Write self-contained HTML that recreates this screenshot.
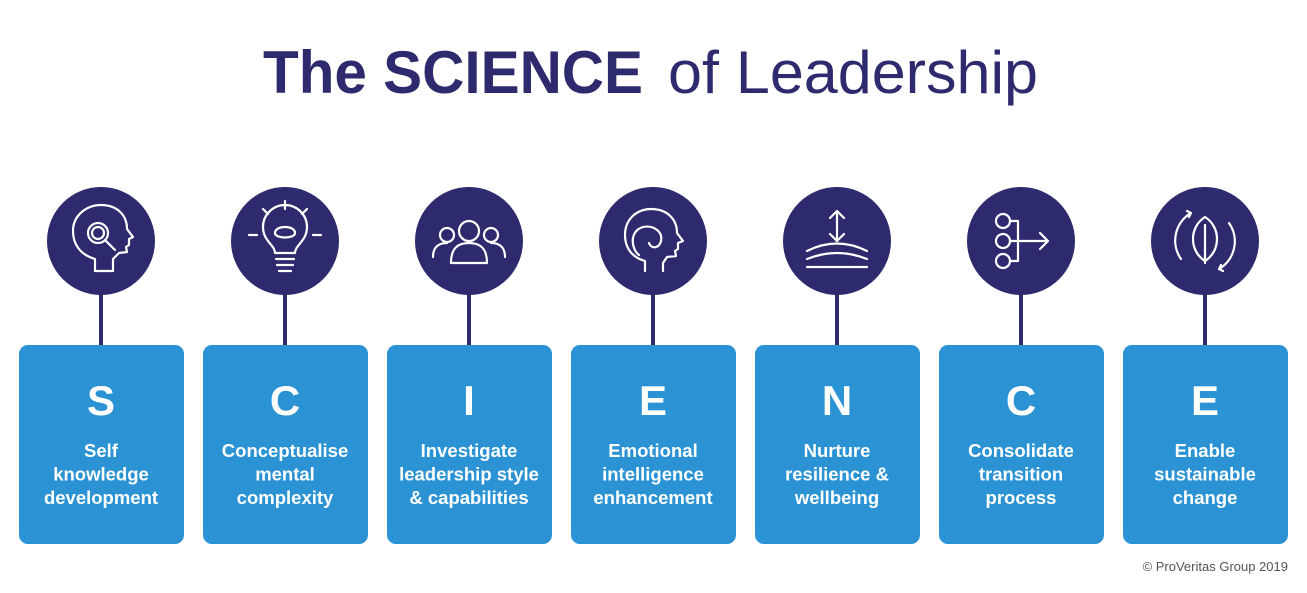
<!DOCTYPE html>
<html><head><meta charset="utf-8"><style>
body{margin:0;background:#fff;width:1307px;height:588px;overflow:hidden;font-family:"Liberation Sans",sans-serif}
.ic{fill:none;stroke:#fff;stroke-width:2.2;stroke-linejoin:round;stroke-linecap:round}
</style></head><body>
<svg width="1307" height="588" viewBox="0 0 1307 588" xmlns="http://www.w3.org/2000/svg" font-family="Liberation Sans, sans-serif">
<text y="93" font-size="60" fill="#2e2a6e"><tspan x="263" font-weight="bold" textLength="380" lengthAdjust="spacingAndGlyphs">The SCIENCE</tspan><tspan x="668" textLength="370" lengthAdjust="spacingAndGlyphs">of Leadership</tspan></text>

<g transform="translate(101,0)">
<line x1="0" y1="290" x2="0" y2="346" stroke="#2e2a6e" stroke-width="4"/>
<circle cx="0" cy="241" r="54" fill="#2e2a6e"/>
<g class="ic" transform="translate(0,241)"><path d="M-6 30 v-12 c-14-4-22-14-22-28 c0-16 14-26 28-26 c16 0 26 10 26 24 l6 8 -4 2 0 6 -3 2 1 5 -8 1 -6 6 v12 z"/><circle cx="-3" cy="-8" r="10"/><circle cx="-3" cy="-8" r="6"/><path d="M5 0 l9 9"/></g>
<rect x="-82" y="345" width="165" height="199" rx="9" fill="#2b93d4"/>
<g fill="#fff" font-weight="bold" text-anchor="middle"><text x="0" y="415" font-size="42">S</text><text x="0" y="457" font-size="18.5">Self</text><text x="0" y="480.5" font-size="18.5">knowledge</text><text x="0" y="504" font-size="18.5">development</text></g>
</g>

<g transform="translate(285,0)">
<line x1="0" y1="290" x2="0" y2="346" stroke="#2e2a6e" stroke-width="4"/>
<circle cx="0" cy="241" r="54" fill="#2e2a6e"/>
<g class="ic" transform="translate(0,241)"><path d="M-10 12 c0-8-12-12-12-26 a22 22 0 0 1 44 0 c0 14-12 18-12 26 z M-9 18 h18 M-8 24 h16 M-6 30 h12 M-36 -6 h8 M28 -6 h8 M0 -40 v8 M-22 -32 l5 5 M22 -32 l-5 5"/><path d="M-10 -8 c0-8 20-8 20 0 c0 6-20 6-20 0z"/></g>
<rect x="-82" y="345" width="165" height="199" rx="9" fill="#2b93d4"/>
<g fill="#fff" font-weight="bold" text-anchor="middle"><text x="0" y="415" font-size="42">C</text><text x="0" y="457" font-size="18.5">Conceptualise</text><text x="0" y="480.5" font-size="18.5">mental</text><text x="0" y="504" font-size="18.5">complexity</text></g>
</g>

<g transform="translate(469,0)">
<line x1="0" y1="290" x2="0" y2="346" stroke="#2e2a6e" stroke-width="4"/>
<circle cx="0" cy="241" r="54" fill="#2e2a6e"/>
<g class="ic" transform="translate(0,241)"><circle cx="-22" cy="-6" r="7"/><circle cx="22" cy="-6" r="7"/><circle cx="0" cy="-10" r="10"/><path d="M-36 16 c0-10 6-14 14-14 M36 16 c0-10-6-14-14-14 M-18 22 c0-16 8-20 18-20 s18 4 18 20 z"/></g>
<rect x="-82" y="345" width="165" height="199" rx="9" fill="#2b93d4"/>
<g fill="#fff" font-weight="bold" text-anchor="middle"><text x="0" y="415" font-size="42">I</text><text x="0" y="457" font-size="18.5">Investigate</text><text x="0" y="480.5" font-size="18.5">leadership style</text><text x="0" y="504" font-size="18.5">&amp; capabilities</text></g>
</g>

<g transform="translate(653,0)">
<line x1="0" y1="290" x2="0" y2="346" stroke="#2e2a6e" stroke-width="4"/>
<circle cx="0" cy="241" r="54" fill="#2e2a6e"/>
<g class="ic" transform="translate(0,241)"><path d="M-8 30 v-10 c-14-4-20-14-20-26 c0-16 12-26 26-26 c16 0 26 10 26 24 l6 8 -5 2 v6 l-3 2 1 5 -9 1 -4 6 v8"/><path d="M-14 14 c-8-6-10-24 4-28 c10-2 20 4 18 14 c-2 8-10 8-12 2"/></g>
<rect x="-82" y="345" width="165" height="199" rx="9" fill="#2b93d4"/>
<g fill="#fff" font-weight="bold" text-anchor="middle"><text x="0" y="415" font-size="42">E</text><text x="0" y="457" font-size="18.5">Emotional</text><text x="0" y="480.5" font-size="18.5">intelligence</text><text x="0" y="504" font-size="18.5">enhancement</text></g>
</g>

<g transform="translate(837,0)">
<line x1="0" y1="290" x2="0" y2="346" stroke="#2e2a6e" stroke-width="4"/>
<circle cx="0" cy="241" r="54" fill="#2e2a6e"/>
<g class="ic" transform="translate(0,241)"><path d="M0 -30 v30 M-7 -23 l7-7 7 7 M-7 -7 l7 7 7-7 M-30 10 c20-10 40-10 60 0 M-30 18 c20-8 40-8 60 0 M-30 26 h60"/></g>
<rect x="-82" y="345" width="165" height="199" rx="9" fill="#2b93d4"/>
<g fill="#fff" font-weight="bold" text-anchor="middle"><text x="0" y="415" font-size="42">N</text><text x="0" y="457" font-size="18.5">Nurture</text><text x="0" y="480.5" font-size="18.5">resilience &amp;</text><text x="0" y="504" font-size="18.5">wellbeing</text></g>
</g>

<g transform="translate(1021,0)">
<line x1="0" y1="290" x2="0" y2="346" stroke="#2e2a6e" stroke-width="4"/>
<circle cx="0" cy="241" r="54" fill="#2e2a6e"/>
<g class="ic" transform="translate(0,241)"><circle cx="-18" cy="-20" r="7"/><circle cx="-18" cy="0" r="7"/><circle cx="-18" cy="20" r="7"/><path d="M-11 -20 h8 v40 h-8 M-11 0 h38 M19 -8 l8 8 -8 8"/></g>
<rect x="-82" y="345" width="165" height="199" rx="9" fill="#2b93d4"/>
<g fill="#fff" font-weight="bold" text-anchor="middle"><text x="0" y="415" font-size="42">C</text><text x="0" y="457" font-size="18.5">Consolidate</text><text x="0" y="480.5" font-size="18.5">transition</text><text x="0" y="504" font-size="18.5">process</text></g>
</g>

<g transform="translate(1205,0)">
<line x1="0" y1="290" x2="0" y2="346" stroke="#2e2a6e" stroke-width="4"/>
<circle cx="0" cy="241" r="54" fill="#2e2a6e"/>
<g class="ic" transform="translate(0,241)"><path d="M-24 18 a32 32 0 0 1 10-46 M24 -18 a32 32 0 0 1 -10 46 M-18 -30 l4 2 -2 4 M18 30 l-4-2 2-4"/><path d="M0 -24 c-16 10-16 34 0 44 c16-10 16-34 0-44z M0 -16 v38"/></g>
<rect x="-82" y="345" width="165" height="199" rx="9" fill="#2b93d4"/>
<g fill="#fff" font-weight="bold" text-anchor="middle"><text x="0" y="415" font-size="42">E</text><text x="0" y="457" font-size="18.5">Enable</text><text x="0" y="480.5" font-size="18.5">sustainable</text><text x="0" y="504" font-size="18.5">change</text></g>
</g>

<text x="1288" y="571" font-size="13" fill="#555" text-anchor="end">© ProVeritas Group 2019</text>
</svg>
</body></html>
